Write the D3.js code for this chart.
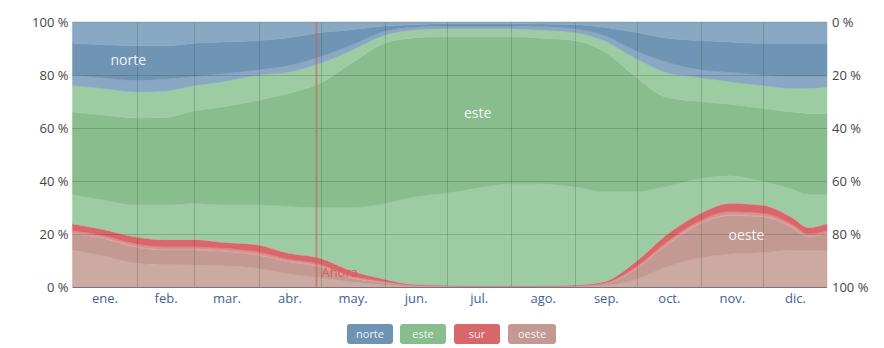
<!DOCTYPE html>
<html><head><meta charset="utf-8">
<script src="https://cdn.jsdelivr.net/npm/d3@7"></script>
<style>
body{margin:0;background:#fff;}
svg{display:block;font-family:"Open Sans","Noto Sans",sans-serif;}
</style></head><body>
<svg id="c" width="884" height="348"></svg>
<script>
// ---- data ----
const days = [0,14,31,45,59,73,90,104,120,134,151,165,181,195,212,226,243,257,273,287,304,318,334,348,356,365];
const monthStarts = [0,31,59,90,120,151,181,212,243,273,304,334,365];
const monthLabels = ["ene.","feb.","mar.","abr.","may.","jun.","jul.","ago.","sep.","oct.","nov.","dic."];
const yTicks = [0,0.2,0.4,0.6,0.8,1];
const nowDay = 118;

// layer thicknesses (% of hours), bottom to top
const oesteNO = [14,12,9,8.5,8.3,8,7,5,3.5,2,0.8,0.3,0.2,0.1,0.1,0.1,0.2,0.5,3,7.5,11,12.5,13,14,14,14];
const oeste   = [6,6.5,6,5.5,5.7,5.5,5,4.5,4,1.6,0.9,0.3,0.2,0.1,0.1,0.1,0.2,0.6,4,8,13,14.5,13.5,8.5,5,6];
const oesteSO = [0.3,0.3,0.3,0.3,0.3,0.3,0.3,0.3,0.3,0.2,0.1,0,0,0,0,0,0,0.1,0.2,0.3,0.3,0.4,0.4,0.3,0.3,0.3];
const surSO   = [0.9,0.8,0.9,0.9,0.9,0.8,0.9,0.8,0.8,0.6,0.3,0.1,0.1,0,0,0.1,0.1,0.2,0.6,0.9,0.9,1.1,1,0.9,0.8,0.9];
const sur     = [2.6,2.2,2.6,2.6,2.6,2.2,2.6,2.2,2.2,1.9,0.8,0.3,0.2,0.2,0.2,0.2,0.3,0.6,2,2.7,2.6,3,2.9,2.5,2.3,2.6];
const surSE   = [0.2,0.2,0.2,0.2,0.2,0.2,0.2,0.2,0.2,0.2,0.1,0,0,0,0,0,0,0,0.2,0.2,0.2,0.2,0.2,0.2,0.2,0.2];
const esteSE  = [11,11,12,13,13.5,14,15,17.5,19,23.5,28.5,33,34.8,36.9,38.6,38.5,37,34,26,18.4,13,10.3,9,10.6,12.4,11];
const este    = [31,32,32.8,33,35,37,39.5,42.5,47,54,60.5,60,59,57.2,55.5,55,55.2,53,43,33.7,29,27,27.5,29,30.5,30.5];
const esteNE  = [10,10,9.8,10,9.5,9.5,9.5,8,7.5,5,3,3,3,3,3,3,3,4,7,9.3,9,8.5,8.5,9,9.5,10];
const norteNE = [4,4,4.4,4.5,3.5,3,2,2.5,2.5,2,1.5,1,1,1,1,1.3,1.5,2,3,4,3,3.5,4,4.5,4.5,4];
const norte   = [12,12.5,13,12.5,12.5,12,11,10.5,9,6,2,1,0.8,0.8,0.8,0.9,1.5,3,7,9,11,11.5,12,12.5,12.5,12.5];
const norteNO = [8,8.5,9,9,8,7.5,7,6,4,3,1.5,1,0.7,0.7,0.7,0.8,1,2,4,6,7,7.5,8,8,8,8];

const layerNames = ["oesteNO","oeste","oesteSO","surSO","sur","surSE","esteSE","este","esteNE","norteNE","norte","norteNO"];
const layerValues = [oesteNO,oeste,oesteSO,surSO,sur,surSE,esteSE,este,esteNE,norteNE,norte,norteNO];
const colors = {
  oesteNO:"#cdaaa1", oeste:"#c29a91", oesteSO:"#cdaaa1",
  surSO:"#e08e8c", sur:"#d8666a", surSE:"#e08e8c",
  esteSE:"#9dcca2", este:"#89bd8e", esteNE:"#9dcca2",
  norteNE:"#89a8c4", norte:"#7094b4", norteNO:"#89a8c4"
};
const legend = [{n:"norte",c:"#6f93b3"},{n:"este",c:"#89bd8e"},{n:"sur",c:"#d8676a"},{n:"oeste",c:"#c39a91"}];

// ---- chart ----
const svg = d3.select("#c");
const L=72.5, R=827, T=22, B=287;
const x = d3.scaleLinear().domain([0,365]).range([L,R]);
const y = d3.scaleLinear().domain([0,1]).range([B,T]);

const table = days.map((d,i)=>{const o={day:d}; layerNames.forEach((k,j)=>o[k]=layerValues[j][i]); return o;});
const series = d3.stack().keys(layerNames).offset(d3.stackOffsetExpand)(table);
const area = d3.area().x(d=>x(d.data.day)).y0(d=>y(d[0])).y1(d=>y(d[1])).curve(d3.curveMonotoneX);

svg.append("g").selectAll("path").data(series).join("path")
  .attr("d",area).attr("fill",d=>colors[d.key]).attr("stroke",d=>colors[d.key]).attr("stroke-width",0.5);

// grid
const grid = svg.append("g").attr("stroke","rgba(30,60,30,0.22)").attr("stroke-width",1);
grid.selectAll("line.v").data(monthStarts.slice(1,-1)).join("line")
  .attr("x1",d=>Math.round(x(d))+0.5).attr("x2",d=>Math.round(x(d))+0.5).attr("y1",T).attr("y2",B);
grid.selectAll("line.h").data(yTicks.slice(1,-1)).join("line")
  .attr("x1",L).attr("x2",R).attr("y1",d=>Math.round(y(d))+0.5).attr("y2",d=>Math.round(y(d))+0.5);
svg.append("line").attr("x1",L).attr("x2",R).attr("y1",T+0.5).attr("y2",T+0.5).attr("stroke","#8a9aa8").attr("stroke-width",1);
svg.append("line").attr("x1",L).attr("x2",R).attr("y1",B+0.5).attr("y2",B+0.5).attr("stroke","#777").attr("stroke-width",1);

// now line
svg.append("line").attr("x1",x(nowDay)).attr("x2",x(nowDay)).attr("y1",T).attr("y2",B)
  .attr("stroke","#c9625e").attr("stroke-opacity",0.6).attr("stroke-width",2);
svg.append("text").attr("x",x(nowDay)+5).attr("y",277).attr("fill","#d8605e").attr("font-size",13).text("Ahora");

// axes
const fmtL = d=>Math.round(d*100)+" %";
const fmtR = d=>Math.round(100-d*100)+" %";
const axL = svg.append("g").attr("transform",`translate(${L-4},0)`)
  .call(d3.axisLeft(y).tickValues(yTicks).tickFormat(fmtL).tickSize(0).tickPadding(0));
const axR = svg.append("g").attr("transform",`translate(${R+5},0)`)
  .call(d3.axisRight(y).tickValues(yTicks).tickFormat(fmtR).tickSize(0).tickPadding(0));
[axL,axR].forEach(a=>{a.select(".domain").remove(); a.selectAll("text").attr("fill","#444").attr("font-size",13).attr("font-family","'Open Sans','Noto Sans',sans-serif");});

const mids = monthStarts.slice(0,-1).map((d,i)=>(d+monthStarts[i+1])/2);
const axB = svg.append("g").attr("transform",`translate(0,${B+4})`)
  .call(d3.axisBottom(x).tickValues(mids).tickFormat((d,i)=>monthLabels[i]).tickSize(0).tickPadding(3));
axB.select(".domain").remove();
axB.selectAll("text").attr("fill","#40629a").attr("font-size",13).attr("font-family","'Open Sans','Noto Sans',sans-serif");

// in-chart labels
const lab = svg.append("g").attr("fill","#fff").attr("fill-opacity",0.9).attr("font-size",14).attr("text-anchor","middle");
lab.append("text").attr("x",x(27)).attr("y",65).text("norte");
lab.append("text").attr("x",x(196)).attr("y",118).text("este");
lab.append("text").attr("x",x(326)).attr("y",240).text("oeste");

// legend
const lg = svg.append("g").attr("font-size",11).attr("text-anchor","middle");
const lx = [347,400,454,508], lw=[46,46,46,48];
legend.forEach((d,i)=>{
  lg.append("rect").attr("x",lx[i]).attr("y",324).attr("width",lw[i]).attr("height",20).attr("rx",3).attr("fill",d.c);
  lg.append("text").attr("x",lx[i]+lw[i]/2).attr("y",338).attr("fill","#fff").attr("fill-opacity",0.9).text(d.n);
});
</script>
</body></html>
